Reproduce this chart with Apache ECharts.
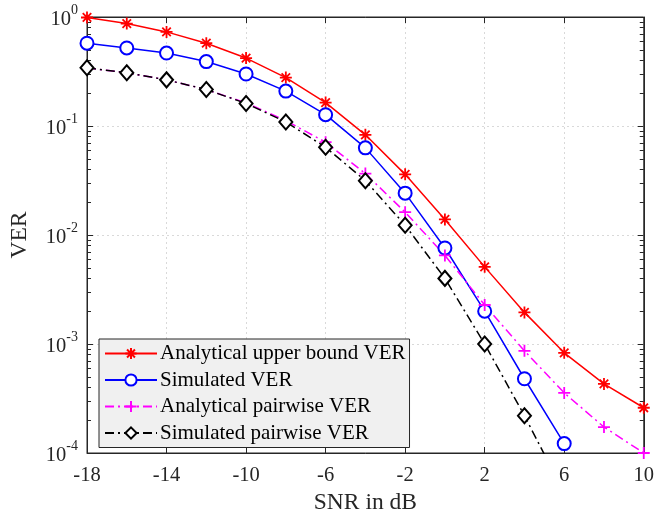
<!DOCTYPE html>
<html>
<head>
<meta charset="utf-8">
<script src="https://cdn.jsdelivr.net/npm/echarts@6/dist/echarts.min.js"></script>
<style>html,body{margin:0;padding:0;background:#fff}#c{width:657px;height:520px}</style>
</head>
<body>
<div id="c"></div>
<script>
const snr = [-18,-16,-14,-12,-10,-8,-6,-4,-2,0,2,4,6,8,10];
const analyticalUpper = [0.99,0.87,0.73,0.575,0.42,0.278,0.164,0.083,0.036,0.0139,0.0051,0.00195,0.00083,0.00043,0.00026];
const simulatedVER = [0.575,0.52,0.467,0.39,0.30,0.209,0.127,0.063,0.0242,0.0076,0.0020,0.00048,0.000122];
const analyticalPairwise = [0.342,0.308,0.265,0.216,0.163,0.112,0.071,0.0366,0.0162,0.0065,0.00228,0.000865,0.000356,0.000173,0.0001];
const simulatedPairwise = [0.342,0.308,0.265,0.216,0.161,0.109,0.0638,0.0315,0.0123,0.0040,0.00100,0.00022,0.000043];
const xTicks = [-18,-14,-10,-6,-2,2,6,10];
const decades = [-4,-3,-2,-1];
const minorMultipliers = [2,3,4,5,6,7,8,9];
const names = ['Analytical upper bound VER','Simulated VER','Analytical pairwise VER','Simulated pairwise VER'];

const FONT = '"Liberation Serif","Times New Roman",serif';
const AX = '#262626';
const pair = (ys) => ys.map((v,i)=>[snr[i], v]);
const minorLog = [];
decades.forEach(d => minorMultipliers.forEach(m => minorLog.push(d + Math.log10(m))));
const asterisk = 'path://M0,-10L0,10M-10,0L10,0M-7.07,-7.07L7.07,7.07M-7.07,7.07L7.07,-7.07';
const plus = 'path://M0,-10L0,10M-10,0L10,0';

const chart = echarts.init(document.getElementById('c'), null, {renderer:'canvas'});
const yLabel = {
  color: AX, fontFamily: FONT, margin: 9,
  formatter: v => '{b|10}{s|' + Math.round(Math.log10(v)) + '}',
  rich: {
    b: {fontSize: 20.5, fontFamily: FONT, color: AX, lineHeight: 27, verticalAlign: 'bottom'},
    s: {fontSize: 14, fontFamily: FONT, color: AX, lineHeight: 14, verticalAlign: 'top'}
  }
};
const axLine = {show: true, onZero: false, lineStyle: {color: AX}};
const axTick = {show: true, inside: true, length: 6, lineStyle: {color: AX}};
const minorAxis = (pos) => ({
  type: 'value', min: -4, max: 0, position: pos,
  axisLine: {show: false, onZero: false},
  axisTick: {show: true, inside: true, length: 4, customValues: minorLog, lineStyle: {color: AX}},
  axisLabel: {show: false}, splitLine: {show: false}
});
chart.setOption({
  animation: false,
  backgroundColor: '#fff',
  grid: {left: 82, right: 9, top: 17, bottom: 58, show: true, borderColor: AX, borderWidth: 1, backgroundColor: 'transparent'},
  legend: {
    orient: 'vertical', left: 99, top: 339,
    backgroundColor: '#f0f0f0', borderColor: AX, borderWidth: 1,
    padding: [4, 4, 4, 5], itemGap: 5.5, itemWidth: 52, itemHeight: 14,
    textStyle: {fontFamily: FONT, fontSize: 21, color: '#000', padding: [0,0,0,-2]},
    data: names
  },
  xAxis: [{
    type: 'value', min: -18, max: 10, interval: 4,
    name: 'SNR in dB', nameLocation: 'middle', nameGap: 38,
    nameTextStyle: {fontFamily: FONT, fontSize: 23.5, color: AX},
    axisLine: axLine, axisTick: axTick,
    axisLabel: {fontFamily: FONT, fontSize: 20.5, color: AX, margin: 12},
    splitLine: {show: true, lineStyle: {color: '#d9d9d9', type: [2,3]}}
  },{
    type: 'value', min: -18, max: 10, interval: 4, position: 'top',
    axisLine: axLine, axisTick: axTick,
    axisLabel: {show: false}, splitLine: {show: false}
  }],
  yAxis: [{
    type: 'log', min: 1e-4, max: 1, logBase: 10,
    name: 'VER', nameLocation: 'middle', nameGap: 55, nameRotate: 90,
    nameTextStyle: {fontFamily: FONT, fontSize: 23.5, color: AX},
    axisLine: axLine, axisTick: axTick,
    axisLabel: yLabel,
    splitLine: {show: true, lineStyle: {color: '#d9d9d9', type: [2,3]}}
  },{
    type: 'log', min: 1e-4, max: 1, logBase: 10, position: 'right',
    axisLine: axLine, axisTick: axTick,
    axisLabel: {show: false}, splitLine: {show: false}
  }, minorAxis('left'), minorAxis('right')],
  series: [{
    name: names[0], type: 'line', data: pair(analyticalUpper),
    symbol: asterisk, symbolSize: 12, showAllSymbol: true,
    lineStyle: {color: '#ff0000', width: 1.5},
    itemStyle: {color: '#ff0000', borderColor: '#ff0000', borderWidth: 1.8}
  },{
    name: names[1], type: 'line', data: pair(simulatedVER),
    symbol: 'emptyCircle', symbolSize: 13,
    lineStyle: {color: '#0000ff', width: 1.5},
    itemStyle: {color: '#0000ff', borderColor: '#0000ff', borderWidth: 1.8}
  },{
    name: names[2], type: 'line', data: pair(analyticalPairwise),
    symbol: plus, symbolSize: 12,
    lineStyle: {color: '#ff00ff', width: 1.5, type: [9,4,2,4]},
    itemStyle: {color: '#ff00ff', borderColor: '#ff00ff', borderWidth: 1.8}
  },{
    name: names[3], type: 'line', data: pair(simulatedPairwise),
    symbol: 'emptyDiamond', symbolSize: [13, 15],
    lineStyle: {color: '#000000', width: 1.5, type: [9,4,2,4]},
    itemStyle: {color: '#000000', borderColor: '#000000', borderWidth: 1.8}
  }]
});
</script>
</body>
</html>
